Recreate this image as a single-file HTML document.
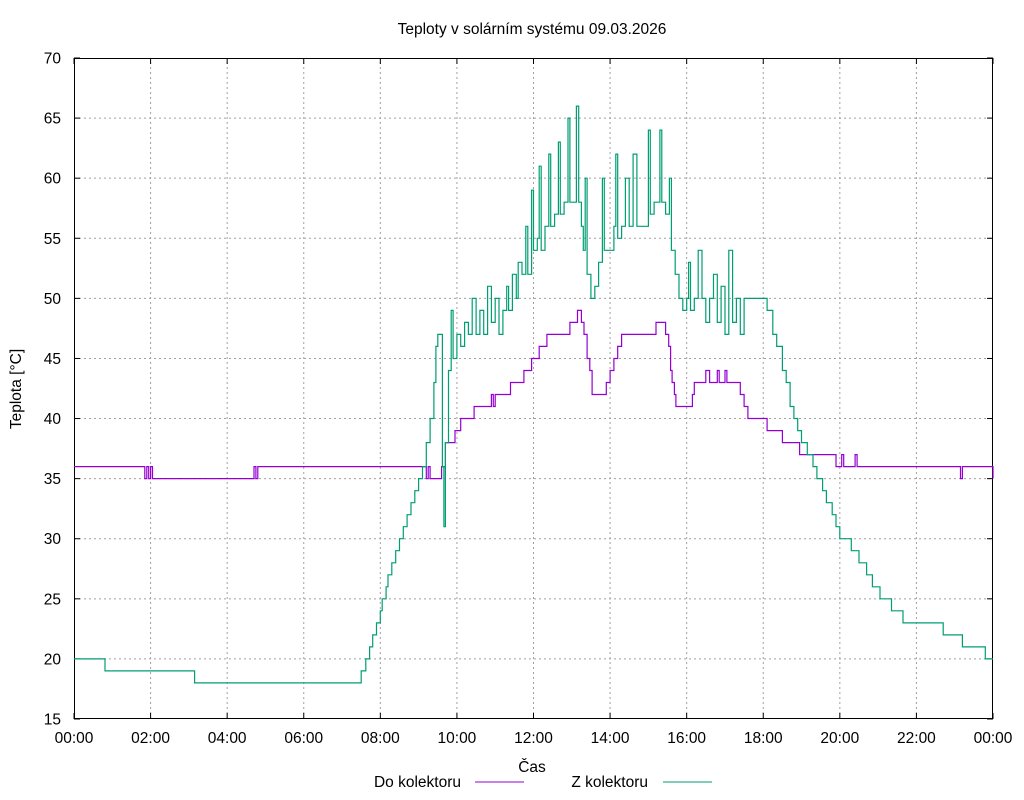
<!DOCTYPE html>
<html><head><meta charset="utf-8"><style>
body{margin:0;background:#fff;}
svg{display:block;font-family:"Liberation Sans",sans-serif;}
</style></head><body>
<svg id="chart" width="1024" height="800">
<rect width="1024" height="800" fill="#fff"/>
<text x="532" y="34" font-size="15.5" text-anchor="middle">Teploty v solárním systému 09.03.2026</text>
<g id="grid"></g><g id="axes"></g><g id="series"></g>
<text x="532" y="772" font-size="15.5" text-anchor="middle">Čas</text>
<text transform="translate(21,389) rotate(-90)" font-size="15.5" text-anchor="middle">Teplota [°C]</text>
<g><text x="461" y="787" font-size="15.5" text-anchor="end">Do kolektoru</text><line x1="475" y1="782" x2="524" y2="782" stroke="#9400d3"/></g>
<g><text x="648" y="787" font-size="15.5" text-anchor="end">Z kolektoru</text><line x1="663" y1="782" x2="712" y2="782" stroke="#009e73"/></g>
</svg>
<script>
const xTicks=["00:00","02:00","04:00","06:00","08:00","10:00","12:00","14:00","16:00","18:00","20:00","22:00","00:00"];
const yTicks=[15,20,25,30,35,40,45,50,55,60,65,70];
const doT=[0,1.85,1.9,1.95,2.0,2.05,2.1,4.7,4.75,4.8,8.5,8.53,9.2,9.25,9.3,9.6,9.7,9.95,10.1,10.45,10.9,10.95,11.0,11.05,11.4,11.75,11.95,12.15,12.35,12.95,13.15,13.25,13.32,13.4,13.47,13.53,13.6,13.75,13.9,14.0,14.1,14.2,14.3,15.2,15.45,15.53,15.58,15.62,15.68,15.72,15.78,16.15,16.2,16.5,16.6,16.8,16.85,17.0,17.05,17.2,17.4,17.5,17.6,18.1,18.5,18.95,19.9,20.05,20.1,20.4,20.45,23.1,23.15,23.2,24];
const doV=[36,35,36,35,36,35,35,36,35,36,36,36,35,36,35,36,38,39,40,41,42,41,42,42,43,44,45,46,47,48,49,48,47,45,44,42,42,42,43,44,45,46,47,48,47,46,44,43,42,41,41,42,43,44,43,44,43,44,43,43,42,41,40,39,38,37,36,37,36,37,36,36,35,36,35];
const zT=[0,0.81,0.85,3.15,7.5,7.62,7.72,7.8,7.9,8.0,8.05,8.15,8.2,8.3,8.4,8.5,8.6,8.7,8.8,8.9,9.0,9.1,9.2,9.3,9.4,9.45,9.5,9.62,9.66,9.7,9.78,9.85,9.9,10.0,10.1,10.2,10.3,10.4,10.5,10.6,10.7,10.8,10.9,11.0,11.1,11.2,11.3,11.35,11.45,11.55,11.6,11.7,11.8,11.85,11.95,12.0,12.1,12.15,12.2,12.3,12.4,12.45,12.55,12.65,12.7,12.8,12.9,12.95,13.05,13.12,13.18,13.25,13.3,13.35,13.4,13.5,13.6,13.7,13.8,13.85,14.0,14.1,14.15,14.2,14.3,14.4,14.5,14.6,14.7,14.9,15.0,15.05,15.15,15.3,15.35,15.45,15.55,15.6,15.7,15.8,15.9,16.0,16.05,16.1,16.2,16.3,16.4,16.5,16.6,16.7,16.8,16.9,17.0,17.1,17.2,17.3,17.4,17.5,18.05,18.1,18.25,18.35,18.5,18.6,18.7,18.8,18.9,19.0,19.15,19.3,19.4,19.55,19.65,19.8,19.9,20.0,20.3,20.5,20.7,20.85,21.05,21.35,21.65,22.7,23.2,23.8,24];
const zV=[20,19,19,18,19,20,21,22,23,24,25,26,27,28,29,30,31,32,33,34,35,36,38,40,43,46,47,36,31,38,44,49,45,47,46,48,47,50,47,49,47,51,48,50,47,49,51,49,52,50,53,52,56,52,59,54,55,61,54,56,62,56,57,63,57,58,65,58,58,66,58,56,54,60,52,50,51,53,60,54,54,56,62,55,56,60,56,62,56,56,64,57,58,64,58,57,60,54,52,50,49,50,53,49,50,54,50,48,50,52,48,51,47,54,48,50,47,50,50,49,47,46,44,43,41,40,39,38,37,36,35,34,33,32,31,30,29,28,27,26,25,24,23,22,21,20,20];
const X0=74,X1=993,Y0=719,Y1=58;
const sx=h=>X0+(X1-X0)*h/24;
const sy=v=>Y0-(Y0-Y1)*(v-15)/55;
const NS="http://www.w3.org/2000/svg";
function mk(tag,attrs,parent){const e=document.createElementNS(NS,tag);for(const k in attrs)e.setAttribute(k,attrs[k]);parent.appendChild(e);return e;}
const grid=document.getElementById('grid'),axes=document.getElementById('axes'),series=document.getElementById('series');
xTicks.forEach((t,i)=>{const x=sx(i*2);
 if(i>0&&i<12){const g=mk('line',{x1:x,y1:Y0,x2:x,y2:Y1,stroke:'#a0a0a0','stroke-dasharray':'2,3'},grid);
 
 }
 mk('line',{x1:x,y1:Y0,x2:x,y2:Y0-6,stroke:'#000'},axes);mk('line',{x1:x,y1:Y1,x2:x,y2:Y1+6,stroke:'#000'},axes);
 const tx=mk('text',{x:x,y:Y0+24,'font-size':15.5,'text-anchor':'middle'},axes);tx.textContent=t;
 
 });
yTicks.forEach(v=>{const y=sy(v);
 if(v>15&&v<70){const g=mk('line',{x1:X0,y1:y,x2:X1,y2:y,stroke:'#a0a0a0','stroke-dasharray':'2,3'},grid);
 
 }
 mk('line',{x1:X0,y1:y,x2:X0+6,y2:y,stroke:'#000'},axes);mk('line',{x1:X1,y1:y,x2:X1-6,y2:y,stroke:'#000'},axes);
 const tx=mk('text',{x:X0-13,y:y+5.5,'font-size':15.5,'text-anchor':'end'},axes);tx.textContent=v;
 
 });
const fr=mk('rect',{x:X0+0.5,y:Y1+0.5,width:X1-X0-1,height:Y0-Y1-1,fill:'none',stroke:'#000'},axes);


function step(T,V,color,name){let d='';for(let i=0;i<T.length;i++){const x=sx(T[i]).toFixed(1),y=sy(V[i]).toFixed(1);
 if(i===0)d+='M'+x+','+y;else d+='H'+x+'V'+y;}
 const p=mk('path',{d:d,fill:'none',stroke:color,'stroke-width':1.2},series);
 
 }
step(doT,doV,'#9400d3','series-do-kolektoru');
step(zT,zV,'#009e73','series-z-kolektoru');
</script>
</body></html>
